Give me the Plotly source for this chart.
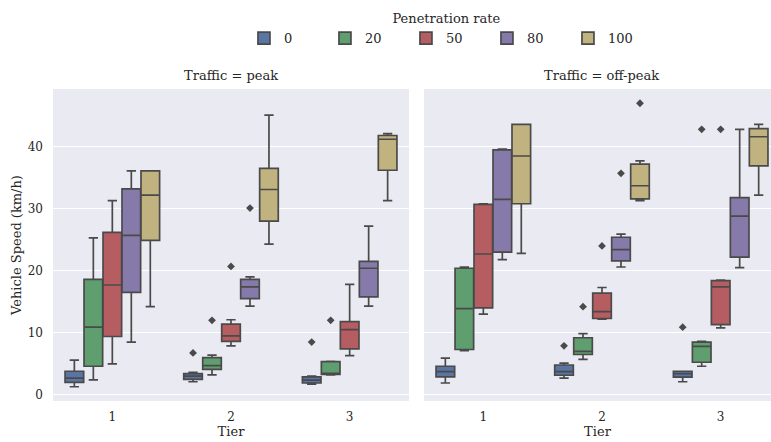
import plotly.graph_objects as go

tiers = ["1", "2", "3"]
rates = ["0", "20", "50", "80", "100"]
colors = ["#5875A4", "#5F9E6E", "#B55D60", "#857AAA", "#C1B37F"]
line_gray = "#4a4a4a"

# ---- Traffic = peak (rows: penetration rate, cols: tier 1..3) ----
peak_low = [[1.3, 2.1, 1.7], [2.4, 3.2, 3.2], [5.0, 7.9, 6.3], [8.5, 14.3, 14.3], [14.2, 24.3, 31.3]]
peak_q1 = [[2.0, 2.5, 1.9], [4.6, 4.1, 3.3], [9.4, 8.6, 7.4], [16.5, 15.5, 15.8], [24.9, 28.0, 36.2]]
peak_med = [[2.7, 3.0, 2.35], [10.9, 4.7, 3.4], [17.7, 9.5, 10.5], [25.7, 17.4, 20.4], [32.2, 33.1, 41.2]]
peak_q3 = [[3.8, 3.4, 2.9], [18.6, 6.0, 5.35], [26.2, 11.4, 11.8], [33.2, 18.6, 21.5], [36.1, 36.5, 41.8]]
peak_high = [[5.6, 3.6, 3.0], [25.3, 6.4, 5.4], [31.3, 12.1, 17.8], [36.1, 19.0, 27.2], [36.1, 45.1, 42.1]]
peak_out_tier = [1, 1, 1, 1, 2, 2]
peak_out_rate = [0, 1, 2, 3, 0, 1]
peak_out_val = [6.75, 12.0, 20.7, 30.1, 8.5, 12.0]

# ---- Traffic = off-peak ----
off_low = [[1.9, 2.7, 2.1], [7.1, 5.7, 4.6], [13.0, 12.2, 10.8], [21.8, 20.6, 20.5], [22.8, 31.3, 32.2]]
off_q1 = [[2.9, 3.15, 2.85], [7.3, 6.5, 5.25], [14.0, 12.3, 11.3], [23.0, 21.6, 22.2], [30.8, 31.6, 36.9]]
off_med = [[3.75, 3.75, 3.4], [13.9, 7.0, 7.8], [22.7, 13.4, 17.4], [31.5, 23.4, 28.8], [38.5, 33.7, 41.6]]
off_q3 = [[4.6, 4.8, 3.8], [20.4, 9.2, 8.5], [30.7, 16.4, 18.4], [39.5, 25.4, 31.8], [43.6, 37.2, 42.9]]
off_high = [[5.9, 5.1, 3.8], [20.6, 9.85, 8.6], [30.8, 17.3, 18.5], [39.6, 25.9, 42.8], [43.6, 37.7, 43.6]]
off_out_tier = [1, 1, 1, 1, 1, 2, 2, 2]
off_out_rate = [0, 1, 2, 3, 4, 0, 1, 2]
off_out_val = [7.9, 14.2, 24.0, 35.7, 47.0, 10.9, 42.8, 42.8]

FONT = "DejaVu Serif"
TXT = "#262626"
n_h = len(rates)
group_w = 0.8
box_w = group_w / n_h


def offset(i):
    return (i - (n_h - 1) / 2) * box_w


fig = go.Figure()
panels = [
    ("x", "y", peak_low, peak_q1, peak_med, peak_q3, peak_high, peak_out_tier, peak_out_rate, peak_out_val, True),
    ("x2", "y2", off_low, off_q1, off_med, off_q3, off_high, off_out_tier, off_out_rate, off_out_val, False),
]
for xa, ya, lo, q1, md, q3, hi, ot, orr, ov, show in panels:
    for i, r in enumerate(rates):
        fig.add_trace(go.Box(
            x=[t + offset(i) for t in range(len(tiers))],
            q1=q1[i], median=md[i], q3=q3[i], lowerfence=lo[i], upperfence=hi[i],
            width=box_w * 0.98, whiskerwidth=0.5,
            fillcolor=colors[i], line=dict(color=line_gray, width=1.7),
            boxpoints=False, name=r, legendgroup=r, showlegend=show,
            xaxis=xa, yaxis=ya, hoverinfo="skip",
        ))
    fig.add_trace(go.Scatter(
        x=[t + offset(k) for t, k in zip(ot, orr)], y=ov, mode="markers",
        marker=dict(symbol="diamond", size=6, color=line_gray),
        showlegend=False, xaxis=xa, yaxis=ya, hoverinfo="skip",
    ))

axis_common = dict(
    tickmode="array", tickvals=list(range(len(tiers))), ticktext=tiers,
    showgrid=False, zeroline=False, showline=False, ticks="",
    tickfont=dict(family=FONT, size=12, color=TXT),
    ticklabelstandoff=7, automargin=False,
    title=dict(text="Tier", font=dict(family=FONT, size=13, color=TXT), standoff=2),
)
yaxis_common = dict(
    range=[-1.0, 49.3], tickvals=[0, 10, 20, 30, 40],
    showgrid=True, gridcolor="white", gridwidth=1.2, zeroline=False, showline=False, ticks="",
    tickfont=dict(family=FONT, size=12, color=TXT), automargin=False,
)

fig.update_layout(
    width=771, height=442,
    margin=dict(l=53, r=0, t=89, b=41, autoexpand=False),
    paper_bgcolor="white", plot_bgcolor="#EAEAF2",
    boxmode="overlay",
    xaxis=dict(domain=[0, 0.4958], range=[-0.5, 2.5], **axis_common),
    xaxis2=dict(domain=[0.5167, 1.0], range=[-0.5, 2.424], **axis_common),
    yaxis=dict(domain=[0, 1], ticklabelstandoff=9,
               title=dict(text="Vehicle Speed (km/h)", font=dict(family=FONT, size=13, color=TXT), standoff=3),
               **yaxis_common),
    yaxis2=dict(domain=[0, 1], anchor="x2", matches="y", showticklabels=False, **yaxis_common),
    legend=dict(
        orientation="h", x=0.548, xanchor="center", y=1.265, yanchor="top",
        title=dict(text="Penetration rate", side="top center", font=dict(family=FONT, size=13, color=TXT)),
        font=dict(family=FONT, size=13, color=TXT),
        bgcolor="rgba(0,0,0,0)", entrywidth=36, traceorder="normal",
    ),
    annotations=[
        dict(text="Traffic = peak", xref="x domain", yref="paper", x=0.5, y=1, xanchor="center",
             yanchor="bottom", yshift=4, showarrow=False, font=dict(family=FONT, size=13, color=TXT)),
        dict(text="Traffic = off-peak", xref="x2 domain", yref="paper", x=0.5 * 356 / 347, y=1,
             xanchor="center", yanchor="bottom", yshift=4, showarrow=False,
             font=dict(family=FONT, size=13, color=TXT)),
    ],
)

fig.write_html("out.html", config={"displayModeBar": False},
               post_script="document.body.style.margin='0';document.body.style.overflow='hidden';")
